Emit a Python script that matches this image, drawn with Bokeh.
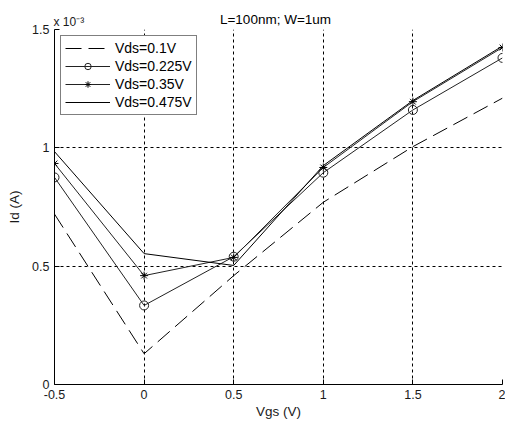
from bokeh.plotting import figure
from bokeh.models import Range1d, FixedTicker, Legend, LegendItem, Label
from bokeh.embed import file_html
from bokeh.resources import INLINE

# ---- data (Id in units of 1e-3 A) ----
vgs = [-0.5, 0.0, 0.5, 1.0, 1.5, 2.0]
id_vds_0p1 = [0.72, 0.13, 0.46, 0.77, 1.005, 1.21]
id_vds_0p225 = [0.875, 0.334, 0.54, 0.895, 1.16, 1.38]
id_vds_0p35 = [0.934, 0.46, 0.537, 0.917, 1.195, 1.424]
id_vds_0p475 = [0.984, 0.553, 0.503, 0.925, 1.2, 1.43]

x_ticks = [-0.5, 0, 0.5, 1, 1.5, 2]
x_tick_labels = ["-0.5", "0", "0.5", "1", "1.5", "2"]
y_ticks = [0, 0.5, 1, 1.5]
y_tick_labels = ["0", "0.5", "1", "1.5"]

series_labels = ["Vds=0.1V", "Vds=0.225V", "Vds=0.35V", "Vds=0.475V"]
title_text = "L=100nm; W=1um"
exponent_text = "x 10\u207b\u00b3"
x_label = "Vgs (V)"
y_label = "Id (A)"

FONT = "Liberation Sans"

p = figure(width=505, height=425, output_backend="svg", toolbar_location=None,
           x_range=Range1d(-0.5, 2), y_range=Range1d(0, 1.5),
           min_border_left=54, min_border_right=3, min_border_top=29,
           min_border_bottom=41)

p.outline_line_color = None
p.background_fill_color = "white"
p.border_fill_color = "white"

for ax in (p.xaxis[0], p.yaxis[0]):
    ax.axis_line_color = "black"
    ax.major_tick_line_color = "black"
    ax.major_tick_in = 5
    ax.major_tick_out = 0
    ax.minor_tick_line_color = None
    ax.major_label_text_font = FONT
    ax.major_label_text_font_size = "12.5px"
    ax.major_label_text_color = "#1a1a1a"
    ax.axis_label_text_font = FONT
    ax.axis_label_text_font_size = "13.5px"
    ax.axis_label_text_font_style = "normal"
    ax.axis_label_text_color = "#1a1a1a"

p.xaxis.ticker = FixedTicker(ticks=x_ticks)
p.xaxis.major_label_overrides = dict(zip(x_ticks, x_tick_labels))
p.xaxis.axis_label = x_label
p.xaxis.major_label_standoff = 5
p.xaxis.axis_label_standoff = 2

p.yaxis.ticker = FixedTicker(ticks=y_ticks)
p.yaxis.major_label_overrides = dict(zip(y_ticks, y_tick_labels))
p.yaxis.axis_label = y_label
p.yaxis.major_label_standoff = 5
p.yaxis.axis_label_standoff = 7

for g in (p.xgrid[0], p.ygrid[0]):
    g.grid_line_color = "black"
    g.grid_line_dash = "3 3"
    g.grid_line_width = 1
    g.grid_line_alpha = 1

r1 = p.line(vgs, id_vds_0p1, line_color="black", line_width=1, line_dash="16 7")
r2 = p.line(vgs, id_vds_0p225, line_color="#222222", line_width=1)
r2m = p.scatter(vgs, id_vds_0p225, marker="circle", size=9, fill_color=None,
                line_color="#222222", line_width=1)
r3 = p.line(vgs, id_vds_0p35, line_color="#222222", line_width=1)
r3m = p.scatter(vgs, id_vds_0p35, marker="asterisk", size=8,
                line_color="black", line_width=1)
r4 = p.line(vgs, id_vds_0p475, line_color="black", line_width=1)

legend = Legend(items=[
    LegendItem(label=series_labels[0], renderers=[r1]),
    LegendItem(label=series_labels[1], renderers=[r2, r2m]),
    LegendItem(label=series_labels[2], renderers=[r3, r3m]),
    LegendItem(label=series_labels[3], renderers=[r4]),
], location="top_left", margin=6, padding=4, spacing=2, glyph_width=45,
    glyph_height=16, label_height=16, label_standoff=5,
    label_text_font=FONT, label_text_font_size="14px", label_text_color="black",
    border_line_color="black", border_line_width=1, background_fill_alpha=1)
p.add_layout(legend)

# title row (nearest the frame) and exponent row above it
p.add_layout(Label(x=221, y=10, x_units="screen", y_units="screen", text=title_text,
                   text_align="center", text_baseline="alphabetic", text_line_height=0.1,
                   text_font=FONT, text_font_size="13.5px", text_color="black"), "above")
p.add_layout(Label(x=-1, y=-7, x_units="screen", y_units="screen", text=exponent_text,
                   text_baseline="alphabetic", text_line_height=0.1,
                   text_font=FONT, text_font_size="12px", text_color="#1a1a1a"), "above")

open("out.html", "w").write(file_html(p, INLINE))
